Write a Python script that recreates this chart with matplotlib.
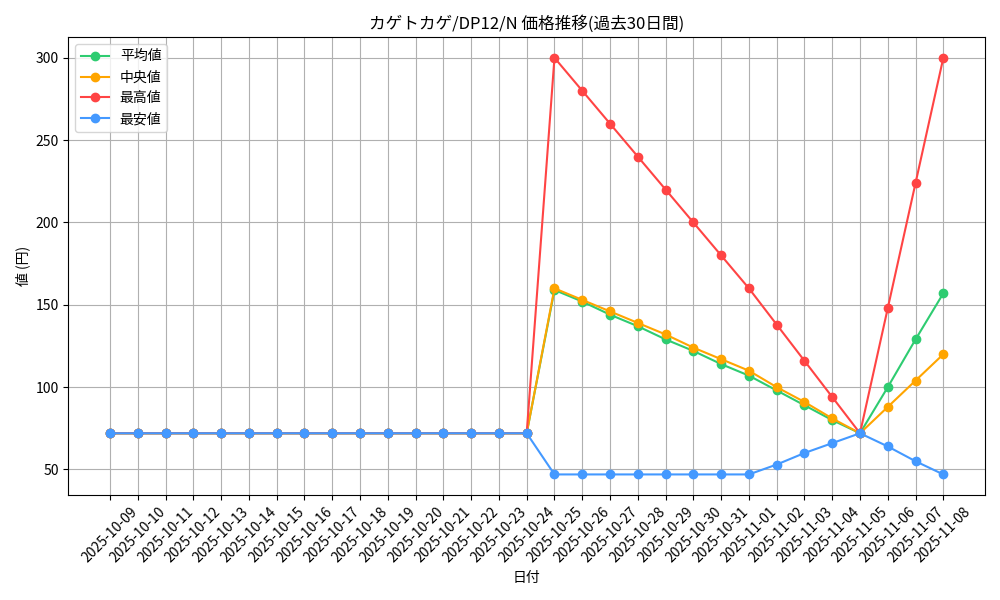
import matplotlib.pyplot as plt
import pandas as pd

plt.rcParams['font.family'] = ['Noto Sans CJK JP', 'DejaVu Sans']

dates = [d.strftime('%Y-%m-%d') for d in pd.date_range('2025-10-09', '2025-11-08')]
flat = [72] * 16
avg_vals = flat + [159, 152, 144, 137, 129, 122, 114, 107, 98, 89, 80, 72, 100, 129, 157]
med_vals = flat + [160, 153, 146, 139, 132, 124, 117, 110, 100, 91, 81, 72, 88, 104, 120]
max_vals = flat + [300, 280, 260, 240, 220, 200, 180, 160, 138, 116, 94, 72, 148, 224, 300]
min_vals = flat + [47, 47, 47, 47, 47, 47, 47, 47, 53, 60, 66, 72, 64, 55, 47]

fig, ax = plt.subplots(figsize=(10, 6), dpi=100)
ax.plot(dates, avg_vals, marker='o', color='#2ecc71', label='平均値')
ax.plot(dates, med_vals, marker='o', color='#ffa500', label='中央値')
ax.plot(dates, max_vals, marker='o', color='#ff4444', label='最高値')
ax.plot(dates, min_vals, marker='o', color='#4499ff', label='最安値')

ax.set_title('カゲトカゲ/DP12/N 価格推移(過去30日間)')
ax.set_xlabel('日付')
ax.set_ylabel('値 (円)')
ax.grid(True)
ax.legend(loc='upper left')
plt.xticks(rotation=45)
plt.tight_layout()
plt.savefig('out.png')
